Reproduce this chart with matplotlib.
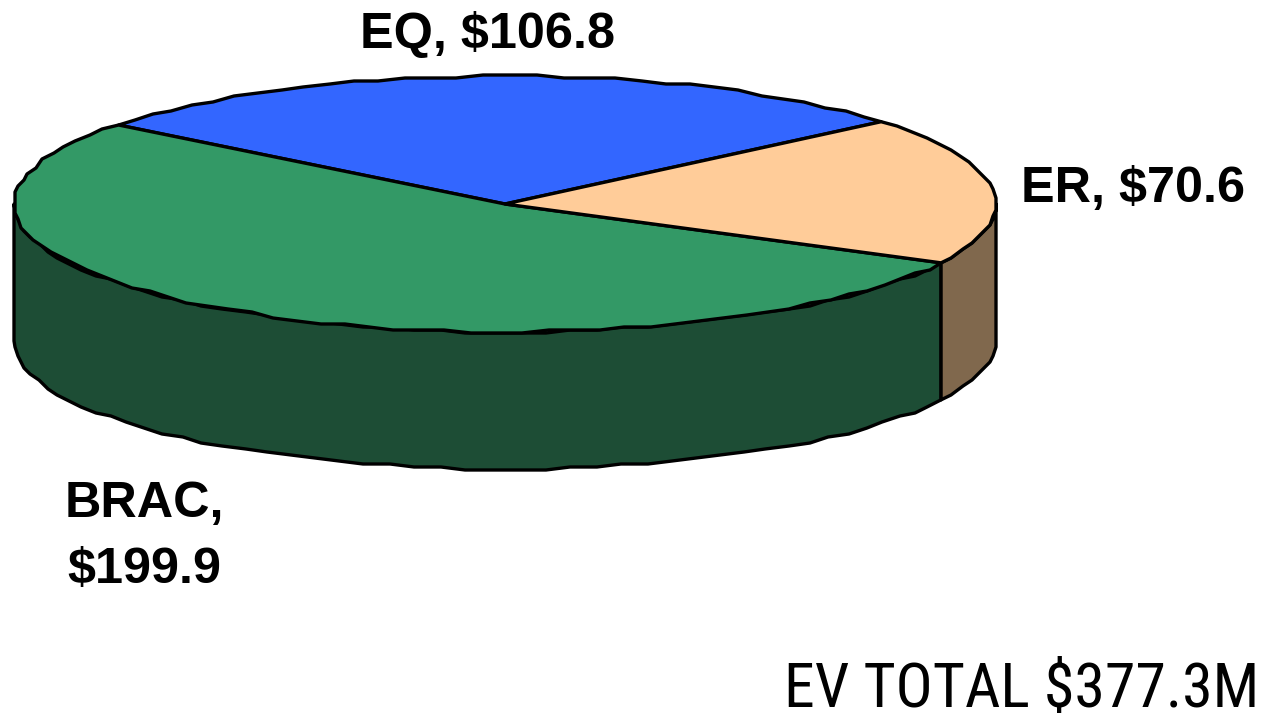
import numpy as np
import matplotlib
matplotlib.use("Agg")
import matplotlib.pyplot as plt
from matplotlib import font_manager as fm
from matplotlib.textpath import TextPath
from matplotlib.font_manager import FontProperties

categories = ["EQ", "BRAC", "ER"]
values = [106.8, 199.9, 70.6]
labels = ["EQ, $106.8", "BRAC,\n$199.9", "ER, $70.6"]
total_label = "EV TOTAL $377.3M"
top_colors = ["#3366FF", "#339966", "#FFCC99"]
side_colors = ["#1A3F80", "#1D4D35", "#80684D"]

W, H = 1264, 717
cx, cy, rx, ry, depth = 505, 204, 491, 128, 137
start_deg = 40.0
grid = 3.0
step_deg = 3.0

fig = plt.figure(figsize=(W/100, H/100), dpi=100, facecolor="white")
ax = fig.add_axes([0, 0, 1, 1])
ax.set_xlim(0, W)
ax.set_ylim(H, 0)
ax.axis("off")

def rim(a0, a1):
    n = max(2, int(abs(a1 - a0) / step_deg) + 1)
    t = np.radians(np.linspace(a0, a1, n))
    x = cx + rx*np.cos(t)
    y = cy - ry*np.sin(t)
    # faceted rim as in the low-resolution original
    xs = np.round(x/grid)*grid
    ys = np.round(y/grid)*grid
    xs[0], ys[0], xs[-1], ys[-1] = x[0], y[0], x[-1], y[-1]
    return xs, ys

fr = np.array(values)/sum(values)*360
edges = start_deg + np.concatenate([[0], np.cumsum(fr)])
lw = 2.4
for i in range(len(values)):
    a0, a1 = edges[i], edges[i+1]
    # front wall: only the part of the rim that faces the viewer (180..360 deg)
    for off in (0.0, 360.0):
        l, h = max(a0, 180.0+off), min(a1, 360.0+off)
        if h > l:
            xs, ys = rim(l, h)
            px = np.concatenate([xs, xs[::-1]])
            py = np.concatenate([ys, ys[::-1]+depth])
            ax.fill(px, py, facecolor=side_colors[i], edgecolor="black", lw=lw, joinstyle="round", zorder=2)
for i in range(len(values)):
    xs, ys = rim(edges[i], edges[i+1])
    px = np.concatenate([[cx], xs])
    py = np.concatenate([[cy], ys])
    ax.fill(px, py, facecolor=top_colors[i], edgecolor="black", lw=lw, joinstyle="round", zorder=3)

bold = dict(family="Liberation Sans", weight="bold", fontsize=36.3, color="black", ha="center", va="center")
ax.text(488, 35, labels[0], **bold)
ax.text(144, 537, labels[1], linespacing=1.55, **bold)
ax.text(1133, 189, labels[2], **bold)

names = {f.name for f in fm.fontManager.ttflist}
narrow = next((n for n in ["Liberation Sans Narrow", "Roboto Condensed", "Open Sans Condensed"] if n in names),
              "Liberation Sans")
fp = FontProperties(family=narrow)
w1 = TextPath((0, 0), total_label, size=1, prop=fp).get_extents().width
size_px = 466 / w1
ax.text(1259, 690, total_label, family=narrow, fontsize=size_px*0.72,
        color="black", ha="right", va="center")

fig.savefig("out.png", dpi=100, facecolor="white")
